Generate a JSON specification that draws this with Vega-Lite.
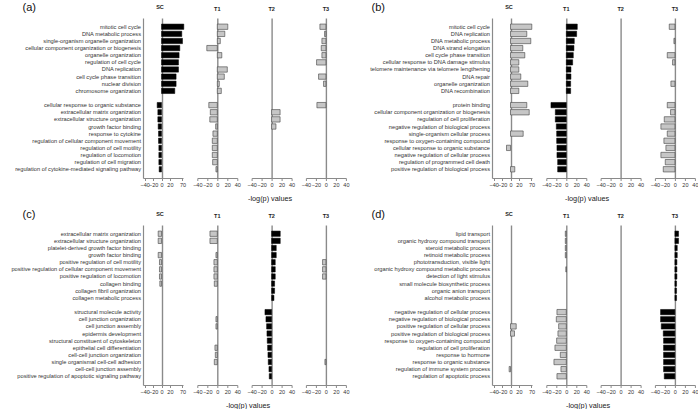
{
"$schema":"https://vega.github.io/schema/vega-lite/v6.json",
"padding":{"left":0,"top":1,"right":0,"bottom":0},
"datasets":{
"a":[
{"term":"mitotic cell cycle","cond":"SC","value":75.2},
{"term":"DNA metabolic process","cond":"SC","value":67.2},
{"term":"single-organism organelle organization","cond":"SC","value":70},
{"term":"cellular component organization or biogenesis","cond":"SC","value":59.3},
{"term":"organelle organization","cond":"SC","value":56.5},
{"term":"regulation of cell cycle","cond":"SC","value":54.1},
{"term":"DNA replication","cond":"SC","value":54.1},
{"term":"cell cycle phase transition","cond":"SC","value":44.6},
{"term":"nuclear division","cond":"SC","value":44.6},
{"term":"chromosome organization","cond":"SC","value":39.4},
{"term":"cellular response to organic substance","cond":"SC","value":-10.3},
{"term":"extracellular matrix organization","cond":"SC","value":-8.7},
{"term":"extracellular structure organization","cond":"SC","value":-8.7},
{"term":"growth factor binding","cond":"SC","value":-7.9},
{"term":"response to cytokine","cond":"SC","value":-7.1},
{"term":"regulation of cellular component movement","cond":"SC","value":-7.1},
{"term":"regulation of cell motility","cond":"SC","value":-6.3},
{"term":"regulation of locomotion","cond":"SC","value":-6.3},
{"term":"regulation of cell migration","cond":"SC","value":-6.3},
{"term":"regulation of cytokine-mediated signaling pathway","cond":"SC","value":-5.6},
{"term":"mitotic cell cycle","cond":"T1","value":21},
{"term":"DNA metabolic process","cond":"T1","value":15},
{"term":"single-organism organelle organization","cond":"T1","value":6},
{"term":"cellular component organization or biogenesis","cond":"T1","value":-21},
{"term":"organelle organization","cond":"T1","value":9},
{"term":"DNA replication","cond":"T1","value":20},
{"term":"cell cycle phase transition","cond":"T1","value":14},
{"term":"nuclear division","cond":"T1","value":4},
{"term":"chromosome organization","cond":"T1","value":8},
{"term":"cellular response to organic substance","cond":"T1","value":-17},
{"term":"extracellular matrix organization","cond":"T1","value":-14},
{"term":"extracellular structure organization","cond":"T1","value":-15},
{"term":"growth factor binding","cond":"T1","value":-3.3},
{"term":"response to cytokine","cond":"T1","value":-8.7},
{"term":"regulation of cellular component movement","cond":"T1","value":-10},
{"term":"regulation of cell motility","cond":"T1","value":-10},
{"term":"regulation of locomotion","cond":"T1","value":-10},
{"term":"regulation of cell migration","cond":"T1","value":-9.3},
{"term":"regulation of cytokine-mediated signaling pathway","cond":"T1","value":-2.7},
{"term":"extracellular matrix organization","cond":"T2","value":17},
{"term":"extracellular structure organization","cond":"T2","value":17},
{"term":"growth factor binding","cond":"T2","value":8.7},
{"term":"mitotic cell cycle","cond":"T3","value":-12},
{"term":"DNA metabolic process","cond":"T3","value":-2.7},
{"term":"single-organism organelle organization","cond":"T3","value":-8},
{"term":"cellular component organization or biogenesis","cond":"T3","value":-9.3},
{"term":"organelle organization","cond":"T3","value":-8},
{"term":"regulation of cell cycle","cond":"T3","value":-18.7},
{"term":"cell cycle phase transition","cond":"T3","value":-14.7},
{"term":"nuclear division","cond":"T3","value":-4.7},
{"term":"cellular response to organic substance","cond":"T3","value":-18}
],
"b":[
{"term":"mitotic cell cycle","cond":"SC","value":71.2},
{"term":"DNA replication","cond":"SC","value":51.3},
{"term":"DNA metabolic process","cond":"SC","value":67.2},
{"term":"DNA strand elongation","cond":"SC","value":35.5},
{"term":"cell cycle phase transition","cond":"SC","value":43.4},
{"term":"cellular response to DNA damage stimulus","cond":"SC","value":19.8},
{"term":"telomere maintenance via telomere lengthening","cond":"SC","value":19.8},
{"term":"DNA repair","cond":"SC","value":27.5},
{"term":"organelle organization","cond":"SC","value":55.3},
{"term":"DNA recombination","cond":"SC","value":19.8},
{"term":"protein binding","cond":"SC","value":51.3},
{"term":"cellular component organization or biogenesis","cond":"SC","value":60.9},
{"term":"single-organism cellular process","cond":"SC","value":37},
{"term":"cellular response to organic substance","cond":"SC","value":-9.5},
{"term":"positive regulation of biological process","cond":"SC","value":10.2},
{"term":"mitotic cell cycle","cond":"T1","value":22},
{"term":"DNA replication","cond":"T1","value":20.7},
{"term":"DNA metabolic process","cond":"T1","value":16},
{"term":"DNA strand elongation","cond":"T1","value":15.3},
{"term":"cell cycle phase transition","cond":"T1","value":14},
{"term":"cellular response to DNA damage stimulus","cond":"T1","value":12.7},
{"term":"telomere maintenance via telomere lengthening","cond":"T1","value":9.3},
{"term":"DNA repair","cond":"T1","value":9.3},
{"term":"organelle organization","cond":"T1","value":8.7},
{"term":"DNA recombination","cond":"T1","value":8.7},
{"term":"protein binding","cond":"T1","value":-30.7},
{"term":"cellular component organization or biogenesis","cond":"T1","value":-22},
{"term":"regulation of cell proliferation","cond":"T1","value":-22},
{"term":"negative regulation of biological process","cond":"T1","value":-20},
{"term":"single-organism cellular process","cond":"T1","value":-19.3},
{"term":"response to oxygen-containing compound","cond":"T1","value":-19.3},
{"term":"cellular response to organic substance","cond":"T1","value":-18.7},
{"term":"negative regulation of cellular process","cond":"T1","value":-18.7},
{"term":"regulation of programmed cell death","cond":"T1","value":-17.3},
{"term":"positive regulation of biological process","cond":"T1","value":-17.3},
{"term":"mitotic cell cycle","cond":"T3","value":-11.3},
{"term":"DNA metabolic process","cond":"T3","value":-2},
{"term":"cell cycle phase transition","cond":"T3","value":-15.3},
{"term":"cellular response to DNA damage stimulus","cond":"T3","value":-4.7},
{"term":"organelle organization","cond":"T3","value":-8},
{"term":"protein binding","cond":"T3","value":-15.3},
{"term":"cellular component organization or biogenesis","cond":"T3","value":-8.7},
{"term":"regulation of cell proliferation","cond":"T3","value":-21.3},
{"term":"negative regulation of biological process","cond":"T3","value":-28},
{"term":"single-organism cellular process","cond":"T3","value":-15.3},
{"term":"response to oxygen-containing compound","cond":"T3","value":-22},
{"term":"cellular response to organic substance","cond":"T3","value":-18},
{"term":"negative regulation of cellular process","cond":"T3","value":-28},
{"term":"regulation of programmed cell death","cond":"T3","value":-19.3},
{"term":"positive regulation of biological process","cond":"T3","value":-23.3}
],
"c":[
{"term":"extracellular matrix organization","cond":"SC","value":-7.9},
{"term":"extracellular structure organization","cond":"SC","value":-7.9},
{"term":"growth factor binding","cond":"SC","value":-7.9},
{"term":"positive regulation of cell motility","cond":"SC","value":-4.8},
{"term":"positive regulation of cellular component movement","cond":"SC","value":-4.8},
{"term":"positive regulation of locomotion","cond":"SC","value":-4.8},
{"term":"collagen binding","cond":"SC","value":-4},
{"term":"extracellular matrix organization","cond":"T1","value":-14.7},
{"term":"extracellular structure organization","cond":"T1","value":-14.7},
{"term":"growth factor binding","cond":"T1","value":-2.7},
{"term":"positive regulation of cell motility","cond":"T1","value":-6.7},
{"term":"positive regulation of cellular component movement","cond":"T1","value":-6.7},
{"term":"positive regulation of locomotion","cond":"T1","value":-6.7},
{"term":"collagen binding","cond":"T1","value":-6},
{"term":"cell junction organization","cond":"T1","value":-2.7},
{"term":"cell junction assembly","cond":"T1","value":-2.7},
{"term":"epithelial cell differentiation","cond":"T1","value":-4.7},
{"term":"cell-cell junction organization","cond":"T1","value":-4},
{"term":"single organismal cell-cell adhesion","cond":"T1","value":-6},
{"term":"extracellular matrix organization","cond":"T2","value":17.3},
{"term":"extracellular structure organization","cond":"T2","value":17.3},
{"term":"platelet-derived growth factor binding","cond":"T2","value":9.3},
{"term":"growth factor binding","cond":"T2","value":9.3},
{"term":"positive regulation of cell motility","cond":"T2","value":7.3},
{"term":"positive regulation of cellular component movement","cond":"T2","value":7.3},
{"term":"positive regulation of locomotion","cond":"T2","value":7.3},
{"term":"collagen binding","cond":"T2","value":6},
{"term":"collagen fibril organization","cond":"T2","value":6},
{"term":"collagen metabolic process","cond":"T2","value":4.7},
{"term":"structural molecule activity","cond":"T2","value":-13.3},
{"term":"cell junction organization","cond":"T2","value":-11.3},
{"term":"cell junction assembly","cond":"T2","value":-10},
{"term":"epidermis development","cond":"T2","value":-9.3},
{"term":"structural constituent of cytoskeleton","cond":"T2","value":-8.7},
{"term":"epithelial cell differentiation","cond":"T2","value":-8},
{"term":"cell-cell junction organization","cond":"T2","value":-7.3},
{"term":"single organismal cell-cell adhesion","cond":"T2","value":-6.7},
{"term":"cell-cell junction assembly","cond":"T2","value":-5.3},
{"term":"positive regulation of apoptotic signaling pathway","cond":"T2","value":-4.7},
{"term":"positive regulation of cell motility","cond":"T3","value":-6.7},
{"term":"positive regulation of cellular component movement","cond":"T3","value":-6.7},
{"term":"positive regulation of locomotion","cond":"T3","value":-6.7},
{"term":"single organismal cell-cell adhesion","cond":"T3","value":-2}
],
"d":[
{"term":"positive regulation of cellular process","cond":"SC","value":13.6},
{"term":"positive regulation of biological process","cond":"SC","value":9.5},
{"term":"regulation of immune system process","cond":"SC","value":-3.2},
{"term":"lipid transport","cond":"T1","value":-2},
{"term":"organic hydroxy compound transport","cond":"T1","value":-2},
{"term":"steroid metabolic process","cond":"T1","value":-2},
{"term":"retinoid metabolic process","cond":"T1","value":-2},
{"term":"organic hydroxy compound metabolic process","cond":"T1","value":-0.8},
{"term":"negative regulation of cellular process","cond":"T1","value":-18.7},
{"term":"negative regulation of biological process","cond":"T1","value":-20},
{"term":"positive regulation of cellular process","cond":"T1","value":-15.3},
{"term":"positive regulation of biological process","cond":"T1","value":-16.7},
{"term":"response to oxygen-containing compound","cond":"T1","value":-19.3},
{"term":"regulation of cell proliferation","cond":"T1","value":-22.7},
{"term":"response to hormone","cond":"T1","value":-12},
{"term":"response to organic substance","cond":"T1","value":-24.7},
{"term":"regulation of immune system process","cond":"T1","value":-10.7},
{"term":"regulation of apoptotic process","cond":"T1","value":-18.7},
{"term":"lipid transport","cond":"T3","value":7.3},
{"term":"organic hydroxy compound transport","cond":"T3","value":7.3},
{"term":"steroid metabolic process","cond":"T3","value":4.7},
{"term":"retinoid metabolic process","cond":"T3","value":4.7},
{"term":"phototransduction, visible light","cond":"T3","value":4},
{"term":"organic hydroxy compound metabolic process","cond":"T3","value":4},
{"term":"detection of light stimulus","cond":"T3","value":4},
{"term":"small molecule biosynthetic process","cond":"T3","value":3.3},
{"term":"organic anion transport","cond":"T3","value":3.3},
{"term":"alcohol metabolic process","cond":"T3","value":3.3},
{"term":"negative regulation of cellular process","cond":"T3","value":-28.7},
{"term":"negative regulation of biological process","cond":"T3","value":-28.7},
{"term":"positive regulation of cellular process","cond":"T3","value":-27.3},
{"term":"positive regulation of biological process","cond":"T3","value":-23.3},
{"term":"response to oxygen-containing compound","cond":"T3","value":-22.7},
{"term":"regulation of cell proliferation","cond":"T3","value":-22.7},
{"term":"response to hormone","cond":"T3","value":-22.7},
{"term":"response to organic substance","cond":"T3","value":-22.7},
{"term":"regulation of immune system process","cond":"T3","value":-22.7},
{"term":"regulation of apoptotic process","cond":"T3","value":-21.3}
]
},
"vconcat":[
{"hconcat":[
{"hconcat":[
{"title":{"text":"SC","dx":-3,"dy":15},"width":40,"height":160,"data":{"name":"a"},"transform":[{"filter":"datum.cond==='SC'"}],"mark":{"type":"bar","fill":"#000","stroke":"#000","strokeWidth":0.5},"encoding":{
"x":{"field":"value","type":"quantitative","scale":{"domain":[-44,0,20,72],"range":[0,18.5,26.9,40],"nice":false,"zero":false},"axis":{"values":[-40,-20,0,20,70],"title":null}},
"x2":{"datum":0},
"y":{"field":"term","type":"nominal","scale":{"domain":["mitotic cell cycle","DNA metabolic process","single-organism organelle organization","cellular component organization or biogenesis","organelle organization","regulation of cell cycle","DNA replication","cell cycle phase transition","nuclear division","chromosome organization","","cellular response to organic substance","extracellular matrix organization","extracellular structure organization","growth factor binding","response to cytokine","regulation of cellular component movement","regulation of cell motility","regulation of locomotion","regulation of cell migration","regulation of cytokine-mediated signaling pathway"],"paddingInner":0.25,"paddingOuter":0.85},
"axis":{"title":"(a)","titleAngle":0,"titleX":-121,"titleY":-11,"titleAlign":"left","titleBaseline":"middle","titleFontSize":11,"titleFontWeight":"normal","titleColor":"#111","titleFont":"Liberation Sans","minExtent":143}}}},
{"title":"T1","width":40,"height":160,"data":{"name":"a"},"transform":[{"filter":"datum.cond==='T1'"}],"mark":{"type":"bar","fill":"#c6c6c6","stroke":"#404040","strokeWidth":0.6},"encoding":{
"x":{"field":"value","type":"quantitative","scale":{"domain":[-40,40],"nice":false},"axis":{"values":[-40,-20,0,20,40],"title":null}},
"x2":{"datum":0},
"y":{"field":"term","type":"nominal","scale":{"domain":["mitotic cell cycle","DNA metabolic process","single-organism organelle organization","cellular component organization or biogenesis","organelle organization","regulation of cell cycle","DNA replication","cell cycle phase transition","nuclear division","chromosome organization","","cellular response to organic substance","extracellular matrix organization","extracellular structure organization","growth factor binding","response to cytokine","regulation of cellular component movement","regulation of cell motility","regulation of locomotion","regulation of cell migration","regulation of cytokine-mediated signaling pathway"],"paddingInner":0.25,"paddingOuter":0.85},"axis":null}}},
{"title":"T2","width":40,"height":160,"data":{"name":"a"},"transform":[{"filter":"datum.cond==='T2'"}],"mark":{"type":"bar","fill":"#c6c6c6","stroke":"#404040","strokeWidth":0.6},"encoding":{
"x":{"field":"value","type":"quantitative","scale":{"domain":[-40,40],"nice":false},"axis":{"values":[-40,-20,0,20,40],"title":null}},
"x2":{"datum":0},
"y":{"field":"term","type":"nominal","scale":{"domain":["mitotic cell cycle","DNA metabolic process","single-organism organelle organization","cellular component organization or biogenesis","organelle organization","regulation of cell cycle","DNA replication","cell cycle phase transition","nuclear division","chromosome organization","","cellular response to organic substance","extracellular matrix organization","extracellular structure organization","growth factor binding","response to cytokine","regulation of cellular component movement","regulation of cell motility","regulation of locomotion","regulation of cell migration","regulation of cytokine-mediated signaling pathway"],"paddingInner":0.25,"paddingOuter":0.85},"axis":null}}},
{"title":"T3","width":40,"height":160,"data":{"name":"a"},"transform":[{"filter":"datum.cond==='T3'"}],"mark":{"type":"bar","fill":"#c6c6c6","stroke":"#404040","strokeWidth":0.6},"encoding":{
"x":{"field":"value","type":"quantitative","scale":{"domain":[-40,40],"nice":false},"axis":{"values":[-40,-20,0,20,40],"title":null}},
"x2":{"datum":0},
"y":{"field":"term","type":"nominal","scale":{"domain":["mitotic cell cycle","DNA metabolic process","single-organism organelle organization","cellular component organization or biogenesis","organelle organization","regulation of cell cycle","DNA replication","cell cycle phase transition","nuclear division","chromosome organization","","cellular response to organic substance","extracellular matrix organization","extracellular structure organization","growth factor binding","response to cytokine","regulation of cellular component movement","regulation of cell motility","regulation of locomotion","regulation of cell migration","regulation of cytokine-mediated signaling pathway"],"paddingInner":0.25,"paddingOuter":0.85},"axis":null}}}
],"bounds":"flush","spacing":14.3,"title":{"text":"-log(p) values","orient":"bottom","anchor":"start","dx":248,"fontSize":7.3,"fontWeight":"normal","frame":"bounds","offset":7,"color":"#222"}},
{"hconcat":[
{"title":{"text":"SC","dx":-3,"dy":15},"width":40,"height":160,"data":{"name":"b"},"transform":[{"filter":"datum.cond==='SC'"}],"mark":{"type":"bar","fill":"#c6c6c6","stroke":"#404040","strokeWidth":0.6},"encoding":{
"x":{"field":"value","type":"quantitative","scale":{"domain":[-44,0,20,72],"range":[0,18.5,26.9,40],"nice":false,"zero":false},"axis":{"values":[-40,-20,0,20,70],"title":null}},
"x2":{"datum":0},
"y":{"field":"term","type":"nominal","scale":{"domain":["mitotic cell cycle","DNA replication","DNA metabolic process","DNA strand elongation","cell cycle phase transition","cellular response to DNA damage stimulus","telomere maintenance via telomere lengthening","DNA repair","organelle organization","DNA recombination","","protein binding","cellular component organization or biogenesis","regulation of cell proliferation","negative regulation of biological process","single-organism cellular process","response to oxygen-containing compound","cellular response to organic substance","negative regulation of cellular process","regulation of programmed cell death","positive regulation of biological process"],"paddingInner":0.25,"paddingOuter":0.85},
"axis":{"title":"(b)","titleAngle":0,"titleX":-121,"titleY":-11,"titleAlign":"left","titleBaseline":"middle","titleFontSize":11,"titleFontWeight":"normal","titleColor":"#111","titleFont":"Liberation Sans","minExtent":143}}}},
{"title":"T1","width":40,"height":160,"data":{"name":"b"},"transform":[{"filter":"datum.cond==='T1'"}],"mark":{"type":"bar","fill":"#000","stroke":"#000","strokeWidth":0.5},"encoding":{
"x":{"field":"value","type":"quantitative","scale":{"domain":[-40,40],"nice":false},"axis":{"values":[-40,-20,0,20,40],"title":null}},
"x2":{"datum":0},
"y":{"field":"term","type":"nominal","scale":{"domain":["mitotic cell cycle","DNA replication","DNA metabolic process","DNA strand elongation","cell cycle phase transition","cellular response to DNA damage stimulus","telomere maintenance via telomere lengthening","DNA repair","organelle organization","DNA recombination","","protein binding","cellular component organization or biogenesis","regulation of cell proliferation","negative regulation of biological process","single-organism cellular process","response to oxygen-containing compound","cellular response to organic substance","negative regulation of cellular process","regulation of programmed cell death","positive regulation of biological process"],"paddingInner":0.25,"paddingOuter":0.85},"axis":null}}},
{"title":"T2","width":40,"height":160,"data":{"name":"b"},"transform":[{"filter":"datum.cond==='T2'"}],"mark":{"type":"bar","fill":"#c6c6c6","stroke":"#404040","strokeWidth":0.6},"encoding":{
"x":{"field":"value","type":"quantitative","scale":{"domain":[-40,40],"nice":false},"axis":{"values":[-40,-20,0,20,40],"title":null}},
"x2":{"datum":0},
"y":{"field":"term","type":"nominal","scale":{"domain":["mitotic cell cycle","DNA replication","DNA metabolic process","DNA strand elongation","cell cycle phase transition","cellular response to DNA damage stimulus","telomere maintenance via telomere lengthening","DNA repair","organelle organization","DNA recombination","","protein binding","cellular component organization or biogenesis","regulation of cell proliferation","negative regulation of biological process","single-organism cellular process","response to oxygen-containing compound","cellular response to organic substance","negative regulation of cellular process","regulation of programmed cell death","positive regulation of biological process"],"paddingInner":0.25,"paddingOuter":0.85},"axis":null}}},
{"title":"T3","width":40,"height":160,"data":{"name":"b"},"transform":[{"filter":"datum.cond==='T3'"}],"mark":{"type":"bar","fill":"#c6c6c6","stroke":"#404040","strokeWidth":0.6},"encoding":{
"x":{"field":"value","type":"quantitative","scale":{"domain":[-40,40],"nice":false},"axis":{"values":[-40,-20,0,20,40],"title":null}},
"x2":{"datum":0},
"y":{"field":"term","type":"nominal","scale":{"domain":["mitotic cell cycle","DNA replication","DNA metabolic process","DNA strand elongation","cell cycle phase transition","cellular response to DNA damage stimulus","telomere maintenance via telomere lengthening","DNA repair","organelle organization","DNA recombination","","protein binding","cellular component organization or biogenesis","regulation of cell proliferation","negative regulation of biological process","single-organism cellular process","response to oxygen-containing compound","cellular response to organic substance","negative regulation of cellular process","regulation of programmed cell death","positive regulation of biological process"],"paddingInner":0.25,"paddingOuter":0.85},"axis":null}}}
],"bounds":"flush","spacing":14.3,"title":{"text":"-log(p) values","orient":"bottom","anchor":"start","dx":216,"fontSize":7.3,"fontWeight":"normal","frame":"bounds","offset":7,"color":"#222"}}
],"spacing":0},
{"hconcat":[
{"hconcat":[
{"title":{"text":"SC","dx":-3,"dy":15},"width":40,"height":160,"data":{"name":"c"},"transform":[{"filter":"datum.cond==='SC'"}],"mark":{"type":"bar","fill":"#c6c6c6","stroke":"#404040","strokeWidth":0.6},"encoding":{
"x":{"field":"value","type":"quantitative","scale":{"domain":[-44,0,20,72],"range":[0,18.5,26.9,40],"nice":false,"zero":false},"axis":{"values":[-40,-20,0,20,70],"title":null}},
"x2":{"datum":0},
"y":{"field":"term","type":"nominal","scale":{"domain":["extracellular matrix organization","extracellular structure organization","platelet-derived growth factor binding","growth factor binding","positive regulation of cell motility","positive regulation of cellular component movement","positive regulation of locomotion","collagen binding","collagen fibril organization","collagen metabolic process","","structural molecule activity","cell junction organization","cell junction assembly","epidermis development","structural constituent of cytoskeleton","epithelial cell differentiation","cell-cell junction organization","single organismal cell-cell adhesion","cell-cell junction assembly","positive regulation of apoptotic signaling pathway"],"paddingInner":0.25,"paddingOuter":0.85},
"axis":{"title":"(c)","titleAngle":0,"titleX":-121,"titleY":-11,"titleAlign":"left","titleBaseline":"middle","titleFontSize":11,"titleFontWeight":"normal","titleColor":"#111","titleFont":"Liberation Sans","minExtent":143}}}},
{"title":"T1","width":40,"height":160,"data":{"name":"c"},"transform":[{"filter":"datum.cond==='T1'"}],"mark":{"type":"bar","fill":"#c6c6c6","stroke":"#404040","strokeWidth":0.6},"encoding":{
"x":{"field":"value","type":"quantitative","scale":{"domain":[-40,40],"nice":false},"axis":{"values":[-40,-20,0,20,40],"title":null}},
"x2":{"datum":0},
"y":{"field":"term","type":"nominal","scale":{"domain":["extracellular matrix organization","extracellular structure organization","platelet-derived growth factor binding","growth factor binding","positive regulation of cell motility","positive regulation of cellular component movement","positive regulation of locomotion","collagen binding","collagen fibril organization","collagen metabolic process","","structural molecule activity","cell junction organization","cell junction assembly","epidermis development","structural constituent of cytoskeleton","epithelial cell differentiation","cell-cell junction organization","single organismal cell-cell adhesion","cell-cell junction assembly","positive regulation of apoptotic signaling pathway"],"paddingInner":0.25,"paddingOuter":0.85},"axis":null}}},
{"title":"T2","width":40,"height":160,"data":{"name":"c"},"transform":[{"filter":"datum.cond==='T2'"}],"mark":{"type":"bar","fill":"#000","stroke":"#000","strokeWidth":0.5},"encoding":{
"x":{"field":"value","type":"quantitative","scale":{"domain":[-40,40],"nice":false},"axis":{"values":[-40,-20,0,20,40],"title":null}},
"x2":{"datum":0},
"y":{"field":"term","type":"nominal","scale":{"domain":["extracellular matrix organization","extracellular structure organization","platelet-derived growth factor binding","growth factor binding","positive regulation of cell motility","positive regulation of cellular component movement","positive regulation of locomotion","collagen binding","collagen fibril organization","collagen metabolic process","","structural molecule activity","cell junction organization","cell junction assembly","epidermis development","structural constituent of cytoskeleton","epithelial cell differentiation","cell-cell junction organization","single organismal cell-cell adhesion","cell-cell junction assembly","positive regulation of apoptotic signaling pathway"],"paddingInner":0.25,"paddingOuter":0.85},"axis":null}}},
{"title":"T3","width":40,"height":160,"data":{"name":"c"},"transform":[{"filter":"datum.cond==='T3'"}],"mark":{"type":"bar","fill":"#c6c6c6","stroke":"#404040","strokeWidth":0.6},"encoding":{
"x":{"field":"value","type":"quantitative","scale":{"domain":[-40,40],"nice":false},"axis":{"values":[-40,-20,0,20,40],"title":null}},
"x2":{"datum":0},
"y":{"field":"term","type":"nominal","scale":{"domain":["extracellular matrix organization","extracellular structure organization","platelet-derived growth factor binding","growth factor binding","positive regulation of cell motility","positive regulation of cellular component movement","positive regulation of locomotion","collagen binding","collagen fibril organization","collagen metabolic process","","structural molecule activity","cell junction organization","cell junction assembly","epidermis development","structural constituent of cytoskeleton","epithelial cell differentiation","cell-cell junction organization","single organismal cell-cell adhesion","cell-cell junction assembly","positive regulation of apoptotic signaling pathway"],"paddingInner":0.25,"paddingOuter":0.85},"axis":null}}}
],"bounds":"flush","spacing":14.3,"title":{"text":"-log(p) values","orient":"bottom","anchor":"start","dx":226,"fontSize":7.3,"fontWeight":"normal","frame":"bounds","offset":7,"color":"#222"}},
{"hconcat":[
{"title":{"text":"SC","dx":-3,"dy":15},"width":40,"height":160,"data":{"name":"d"},"transform":[{"filter":"datum.cond==='SC'"}],"mark":{"type":"bar","fill":"#c6c6c6","stroke":"#404040","strokeWidth":0.6},"encoding":{
"x":{"field":"value","type":"quantitative","scale":{"domain":[-44,0,20,72],"range":[0,18.5,26.9,40],"nice":false,"zero":false},"axis":{"values":[-40,-20,0,20,70],"title":null}},
"x2":{"datum":0},
"y":{"field":"term","type":"nominal","scale":{"domain":["lipid transport","organic hydroxy compound transport","steroid metabolic process","retinoid metabolic process","phototransduction, visible light","organic hydroxy compound metabolic process","detection of light stimulus","small molecule biosynthetic process","organic anion transport","alcohol metabolic process","","negative regulation of cellular process","negative regulation of biological process","positive regulation of cellular process","positive regulation of biological process","response to oxygen-containing compound","regulation of cell proliferation","response to hormone","response to organic substance","regulation of immune system process","regulation of apoptotic process"],"paddingInner":0.25,"paddingOuter":0.85},
"axis":{"title":"(d)","titleAngle":0,"titleX":-121,"titleY":-11,"titleAlign":"left","titleBaseline":"middle","titleFontSize":11,"titleFontWeight":"normal","titleColor":"#111","titleFont":"Liberation Sans","minExtent":143}}}},
{"title":"T1","width":40,"height":160,"data":{"name":"d"},"transform":[{"filter":"datum.cond==='T1'"}],"mark":{"type":"bar","fill":"#c6c6c6","stroke":"#404040","strokeWidth":0.6},"encoding":{
"x":{"field":"value","type":"quantitative","scale":{"domain":[-40,40],"nice":false},"axis":{"values":[-40,-20,0,20,40],"title":null}},
"x2":{"datum":0},
"y":{"field":"term","type":"nominal","scale":{"domain":["lipid transport","organic hydroxy compound transport","steroid metabolic process","retinoid metabolic process","phototransduction, visible light","organic hydroxy compound metabolic process","detection of light stimulus","small molecule biosynthetic process","organic anion transport","alcohol metabolic process","","negative regulation of cellular process","negative regulation of biological process","positive regulation of cellular process","positive regulation of biological process","response to oxygen-containing compound","regulation of cell proliferation","response to hormone","response to organic substance","regulation of immune system process","regulation of apoptotic process"],"paddingInner":0.25,"paddingOuter":0.85},"axis":null}}},
{"title":"T2","width":40,"height":160,"data":{"name":"d"},"transform":[{"filter":"datum.cond==='T2'"}],"mark":{"type":"bar","fill":"#c6c6c6","stroke":"#404040","strokeWidth":0.6},"encoding":{
"x":{"field":"value","type":"quantitative","scale":{"domain":[-40,40],"nice":false},"axis":{"values":[-40,-20,0,20,40],"title":null}},
"x2":{"datum":0},
"y":{"field":"term","type":"nominal","scale":{"domain":["lipid transport","organic hydroxy compound transport","steroid metabolic process","retinoid metabolic process","phototransduction, visible light","organic hydroxy compound metabolic process","detection of light stimulus","small molecule biosynthetic process","organic anion transport","alcohol metabolic process","","negative regulation of cellular process","negative regulation of biological process","positive regulation of cellular process","positive regulation of biological process","response to oxygen-containing compound","regulation of cell proliferation","response to hormone","response to organic substance","regulation of immune system process","regulation of apoptotic process"],"paddingInner":0.25,"paddingOuter":0.85},"axis":null}}},
{"title":"T3","width":40,"height":160,"data":{"name":"d"},"transform":[{"filter":"datum.cond==='T3'"}],"mark":{"type":"bar","fill":"#000","stroke":"#000","strokeWidth":0.5},"encoding":{
"x":{"field":"value","type":"quantitative","scale":{"domain":[-40,40],"nice":false},"axis":{"values":[-40,-20,0,20,40],"title":null}},
"x2":{"datum":0},
"y":{"field":"term","type":"nominal","scale":{"domain":["lipid transport","organic hydroxy compound transport","steroid metabolic process","retinoid metabolic process","phototransduction, visible light","organic hydroxy compound metabolic process","detection of light stimulus","small molecule biosynthetic process","organic anion transport","alcohol metabolic process","","negative regulation of cellular process","negative regulation of biological process","positive regulation of cellular process","positive regulation of biological process","response to oxygen-containing compound","regulation of cell proliferation","response to hormone","response to organic substance","regulation of immune system process","regulation of apoptotic process"],"paddingInner":0.25,"paddingOuter":0.85},"axis":null}}}
],"bounds":"flush","spacing":14.3,"title":{"text":"-log(p) values","orient":"bottom","anchor":"start","dx":217,"fontSize":7.3,"fontWeight":"normal","frame":"bounds","offset":7,"color":"#222"}}
],"spacing":0}
],
"spacing":6,
"config":{
"font":"Liberation Sans",
"view":{"stroke":null},
"axis":{"labelFont":"Liberation Sans","labelFontSize":5.5,"labelColor":"#333","domainColor":"#8a8a8a","tickColor":"#8a8a8a","tickSize":2.5,"labelFlush":false,"labelOverlap":false,"labelPadding":1.5},
"axisX":{"grid":true,"gridColor":{"condition":{"test":"datum.value === 0","value":"#8a8a8a"},"value":"transparent"},"gridWidth":1.4},
"axisY":{"grid":false,"labelFontSize":5.7,"ticks":false,"labelPadding":2.5,"domainColor":"#8a8a8a","domainWidth":1.2},
"title":{"fontSize":5.5,"fontWeight":"bold","frame":"group","anchor":"middle","offset":6,"color":"#222","font":"Liberation Sans"}
}
}
